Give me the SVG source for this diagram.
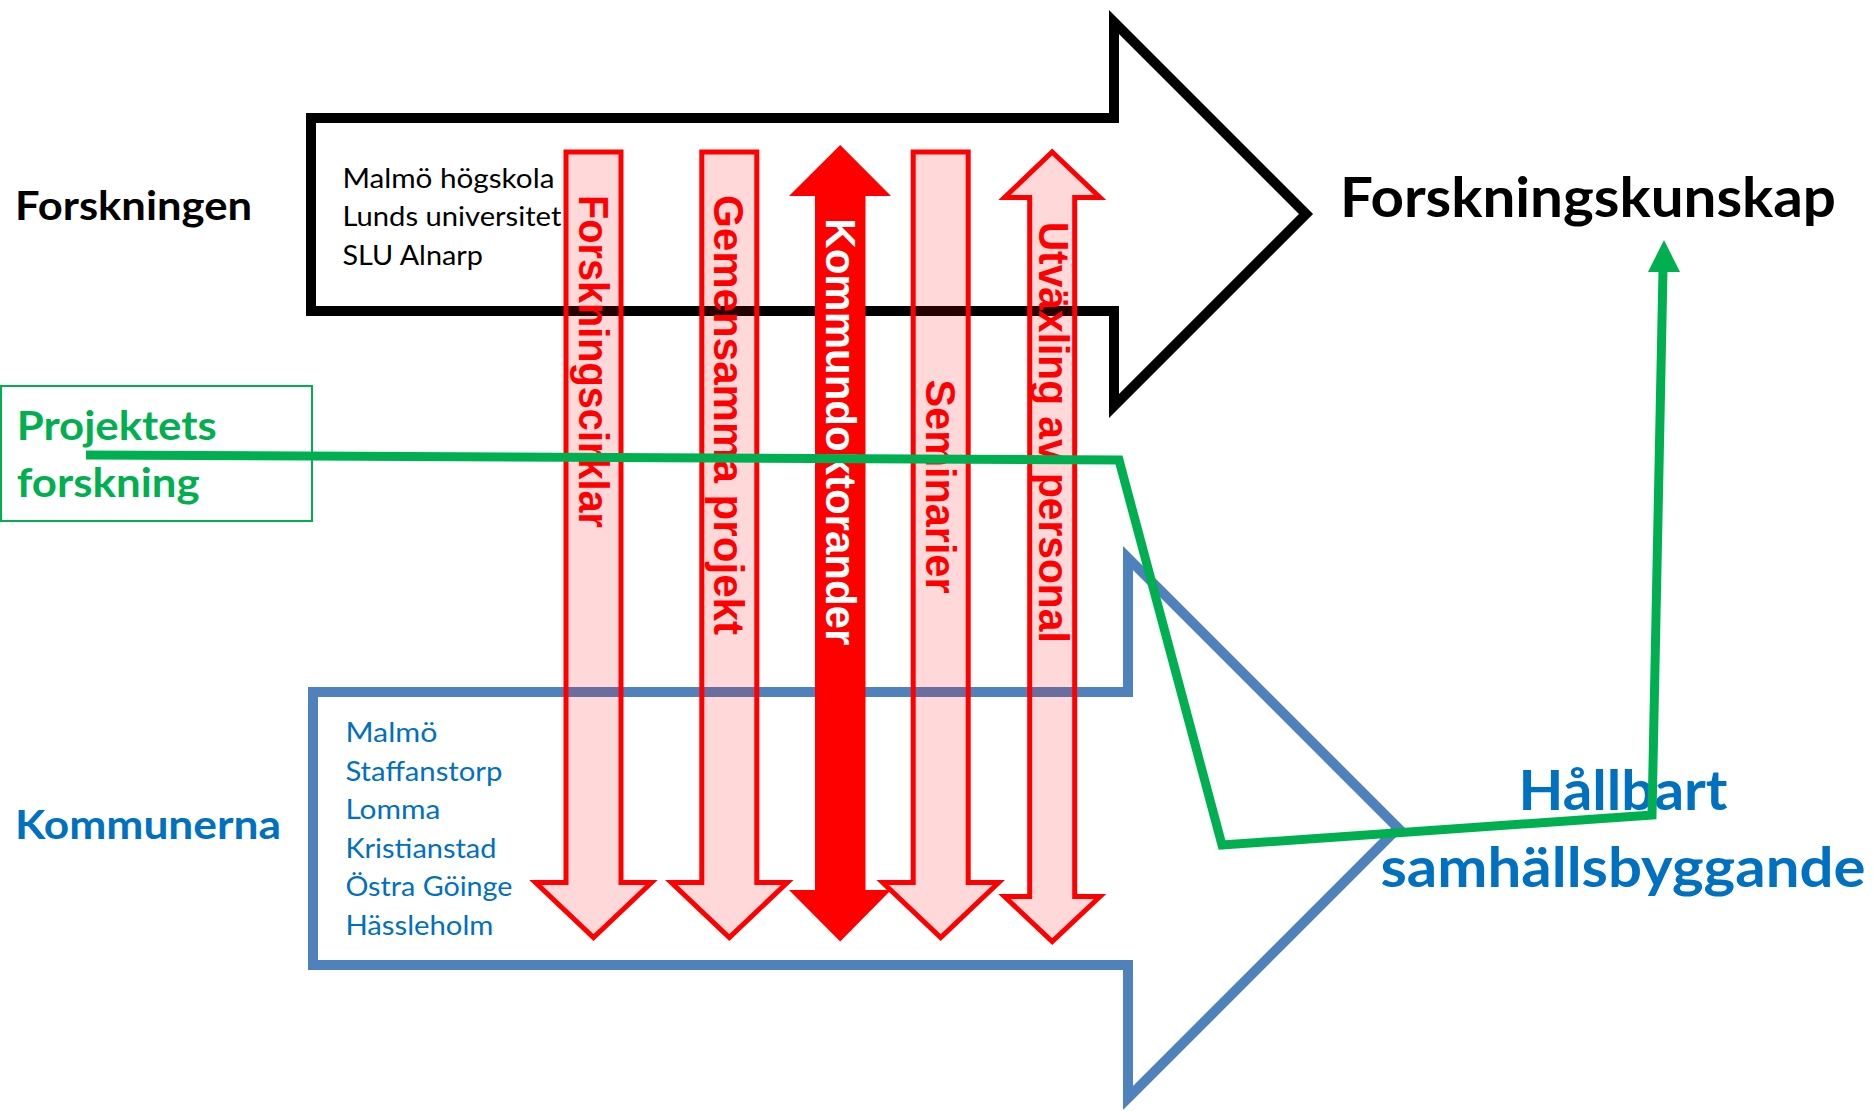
<svg xmlns="http://www.w3.org/2000/svg" width="1874" height="1111" viewBox="0 0 1874 1111">
<style>
.cal{font-family:Lato,"Liberation Sans",sans-serif;}
.b{font-weight:bold;}
.lst{font-size:26px;}
.blk{fill:#000000;}
.blu{fill:#0070C0;}
.grn{fill:#00B050;}
.big{fill:none;stroke-width:10;stroke-linejoin:miter;stroke-miterlimit:10;}
.ra{fill:#FF0000;fill-opacity:0.15;stroke:#FF0000;stroke-width:5;stroke-linejoin:miter;stroke-miterlimit:10;}
.rs{fill:#FF0000;stroke:none;}
.rt{font-family:"Liberation Sans",Arial,sans-serif;font-weight:bold;font-size:42px;fill:#FF0000;}
.wt{fill:#FFFFFF;}
</style>
<rect x="0" y="0" width="1874" height="1111" fill="#FFFFFF"/>

<g id="forskningen">
<text class="cal b blk" x="15" y="219.5" font-size="40" textLength="237" lengthAdjust="spacingAndGlyphs">Forskningen</text>
</g>

<g id="forskning-arrow">
<path class="big" stroke="#000000" d="M311,118 H1114 V22 L1306,214 L1114,406 V311 H311 Z"/>
<text class="cal lst blk" x="342.4" y="187.6" textLength="212" lengthAdjust="spacingAndGlyphs">Malmö högskola</text>
<text class="cal lst blk" x="342.4" y="226" textLength="219" lengthAdjust="spacingAndGlyphs">Lunds universitet</text>
<text class="cal lst blk" x="342.4" y="264.8" textLength="140.5" lengthAdjust="spacingAndGlyphs">SLU Alnarp</text>
</g>

<g id="forskningskunskap">
<text class="cal b blk" x="1340" y="217" font-size="56" textLength="496" lengthAdjust="spacingAndGlyphs">Forskningskunskap</text>
</g>

<g id="kommunerna">
<text class="cal b blu" x="15" y="838.7" font-size="40" textLength="266" lengthAdjust="spacingAndGlyphs">Kommunerna</text>
</g>

<g id="kommuner-arrow">
<path class="big" stroke="#4F81BD" d="M313,692 H1128 V558 L1398,828 L1128,1098 V965 H313 Z"/>
<text class="cal lst blu" x="345.4" y="742" textLength="92" lengthAdjust="spacingAndGlyphs">Malmö</text>
<text class="cal lst blu" x="345.4" y="780.5" textLength="157" lengthAdjust="spacingAndGlyphs">Staffanstorp</text>
<text class="cal lst blu" x="345.4" y="819" textLength="95" lengthAdjust="spacingAndGlyphs">Lomma</text>
<text class="cal lst blu" x="345.4" y="857.5" textLength="151" lengthAdjust="spacingAndGlyphs">Kristianstad</text>
<text class="cal lst blu" x="345.4" y="896" textLength="167" lengthAdjust="spacingAndGlyphs">Östra Göinge</text>
<text class="cal lst blu" x="345.4" y="934.5" textLength="148" lengthAdjust="spacingAndGlyphs">Hässleholm</text>
</g>

<g id="hallbart">
<text class="cal b blu" x="1623" y="810" font-size="55" text-anchor="middle" textLength="209" lengthAdjust="spacingAndGlyphs">Hållbart</text>
<text class="cal b blu" x="1623" y="886.5" font-size="55" text-anchor="middle" textLength="485" lengthAdjust="spacingAndGlyphs">samhällsbyggande</text>
</g>

<g id="forskningscirklar">
<path class="ra" d="M566,152 H621 V882.5 H651.5 L593.5,937.5 L535.5,882.5 H566 Z"/>
<text class="rt" transform="translate(578.5,195) rotate(90)" x="0" y="0" textLength="333" lengthAdjust="spacingAndGlyphs">Forskningscirklar</text>
</g>

<g id="gemensamma-projekt">
<path class="ra" d="M701.8,152 H756.8 V882.5 H787.3 L729.3,937.5 L671.3,882.5 H701.8 Z"/>
<text class="rt" transform="translate(713.5,195) rotate(90)" x="0" y="0" textLength="440" lengthAdjust="spacingAndGlyphs">Gemensamma projekt</text>
</g>

<g id="kommundoktorander">
<path class="rs" d="M840.2,145 L891,196 H865.5 V890 H891 L840.2,941.5 L789,890 H815 V196 H789 Z"/>
<text class="rt wt" transform="translate(826,218.3) rotate(90)" x="0" y="0" textLength="427" lengthAdjust="spacingAndGlyphs">Kommundoktorander</text>
</g>

<g id="seminarier">
<path class="ra" d="M913.2,152 H968.2 V882.5 H998.7 L940.7,937.5 L882.7,882.5 H913.2 Z"/>
<text class="rt" transform="translate(925.5,379.6) rotate(90)" x="0" y="0" textLength="214" lengthAdjust="spacingAndGlyphs">Seminarier</text>
</g>

<g id="utvaxling">
<path class="ra" d="M1052.2,152 L1100,197.5 H1074.7 V896.5 H1100 L1052.2,941.5 L1004.5,896.5 H1029.7 V197.5 H1004.5 Z"/>
<text class="rt" transform="translate(1038.5,221.7) rotate(90)" x="0" y="0" textLength="421" lengthAdjust="spacingAndGlyphs">Utväxling av personal</text>
</g>

<g id="projektets-forskning">
<rect x="1" y="386" width="311" height="135" fill="none" stroke="#00B050" stroke-width="2"/>
<text class="cal b grn" x="16.7" y="439.5" font-size="40" textLength="200" lengthAdjust="spacingAndGlyphs">Projektets</text>
<text class="cal b grn" x="16.7" y="497" font-size="40" textLength="183" lengthAdjust="spacingAndGlyphs">forskning</text>
</g>

<g id="connectors">
<path d="M86,455 L1119,460 L1222,845 L1652,815 L1663,270" fill="none" stroke="#00B050" stroke-width="9" stroke-linejoin="miter"/>
<polygon points="1664,240 1648,272 1680,272" fill="#00B050"/>
</g>
</svg>
